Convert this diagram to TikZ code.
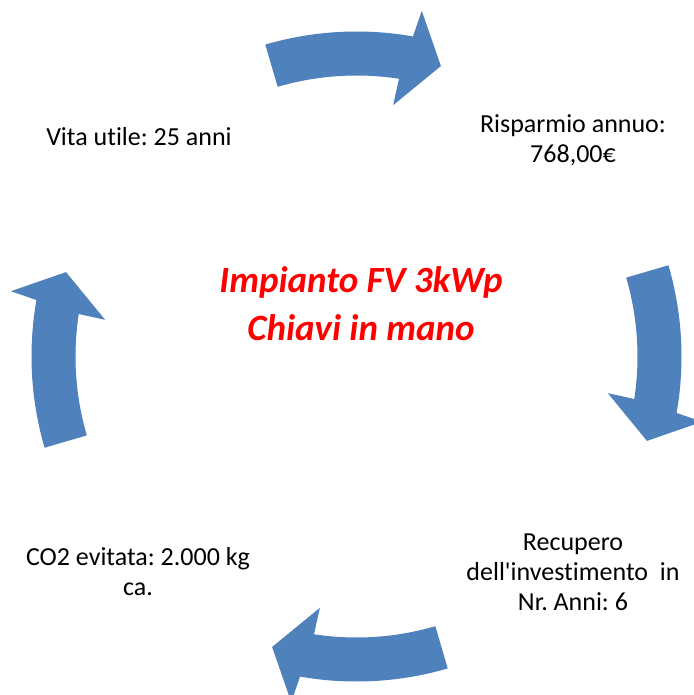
\documentclass[tikz,border=0pt]{standalone}
\usepackage{fontspec}
\setmainfont{Carlito}[Ligatures={TeXOff,CommonOff}]
\definecolor{arrowblue}{HTML}{4F81BD}
\definecolor{titlered}{HTML}{FF0000}
\tikzset{
  cyclearrow/.style={fill=arrowblue, draw=none},
  label/.style={inner sep=0pt, align=center, text=black, font=\fontsize{26}{30}\selectfont},
  title/.style={inner sep=0pt, align=center, text=titlered, font=\fontsize{37}{48}\selectfont\bfseries\itshape}
}
\newcommand{\cyclearrowpath}{%
  (106.3:325) -- (106.3:281) arc[start angle=106.3, end angle=81.3, radius=281]
  -- (81.7:254) -- (73.8:302.5) -- (79.3:351.7) -- (80:325)
  arc[start angle=80, end angle=106.3, radius=325] -- cycle}
\frenchspacing
\begin{document}
\begin{tikzpicture}[x=1pt,y=1pt]
\useasboundingbox (0,0) rectangle (693,-695);
\fill[white] (0,0) rectangle (693,-695);
\begin{scope}[shift={(356.5,-356.5)}]
  \foreach \k in {0,1,2,3} {
    \fill[cyclearrow, rotate=-90*\k] \cyclearrowpath;
  }
\end{scope}
\node[title] (center) at (361,-303.7) {Impianto FV 3kWp\\Chiavi in mano};
\node[label] (saving) at (573,-140.7) {Risparmio annuo:\\768,00€};
\node[label] (payback) at (573,-571.9) {Recupero\\dell'investimento\ \ in\\Nr. Anni: 6};
\node[label] (co2) at (138,-571.3) {CO2 evitata: 2.000 kg\\ca.};
\node[label] (life) at (139,-137) {Vita utile: 25 anni};
\end{tikzpicture}
\end{document}
